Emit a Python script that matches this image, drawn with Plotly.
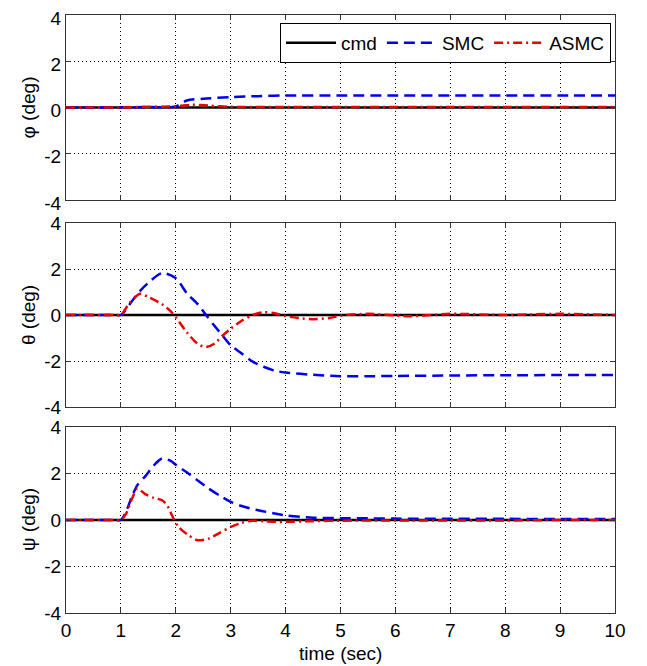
import plotly.graph_objects as go

# ---------------- data ----------------
t_cmd = [0, 10]
cmd_vals = [0, 0]

t_phi_smc = [0, 0.5, 1.0, 1.5, 2.0, 2.2, 2.5, 3.0, 3.5, 4.0, 5, 6, 7, 8, 9, 10]
phi_smc = [0, 0, 0.0, 0.02, 0.05, 0.3, 0.38, 0.45, 0.49, 0.52, 0.52, 0.52, 0.52, 0.52, 0.52, 0.52]
t_phi_asmc = [0, 0.5, 1.0, 1.5, 2.0, 2.3, 2.6, 3.0, 3.5, 4.0, 5, 6, 7, 8, 9, 10]
phi_asmc = [0, 0, 0.0, 0.03, 0.05, 0.12, 0.08, 0.03, 0.02, 0.02, 0.02, 0.02, 0.02, 0.02, 0.02, 0.02]

t_theta_smc = [0, 0.5, 0.9, 1.0, 1.2, 1.35, 1.5, 1.75, 2.0, 2.2, 2.4, 2.55, 2.7, 2.85, 3.0, 3.2, 3.4, 3.6,
               3.8, 4.0, 4.5, 5.0, 5.5, 6, 7, 8, 9, 10]
theta_smc = [0, 0, 0, 0, 0.6, 1.05, 1.4, 1.82, 1.6, 0.95, 0.47, 0.0, -0.46, -0.89, -1.32, -1.67, -2.03, -2.25,
             -2.42, -2.5, -2.6, -2.66, -2.66, -2.65, -2.63, -2.62, -2.61, -2.61]
t_theta_asmc = [0, 0.5, 0.9, 1.0, 1.15, 1.35, 1.5, 1.75, 1.9, 2.0, 2.2, 2.4, 2.55, 2.7, 2.85, 3.0, 3.2, 3.4,
                3.6, 3.8, 4.0, 4.3, 4.5, 4.8, 5.0, 5.5, 6.0, 6.3, 7.0, 8.0, 9.0, 10.0]
theta_asmc = [0, 0, 0, 0, 0.5, 0.92, 0.78, 0.47, 0.18, -0.1, -0.75, -1.25, -1.39, -1.25, -0.9, -0.6, -0.25, 0.0,
              0.12, 0.08, -0.05, -0.15, -0.18, -0.13, -0.03, 0.05, -0.02, -0.05, 0.05, 0.0, 0.05, 0.0]

t_psi_smc = [0, 0.5, 0.9, 1.0, 1.1, 1.2, 1.3, 1.45, 1.6, 1.75, 1.9, 2.0, 2.2, 2.4, 2.6, 2.8, 3.0, 3.2, 3.5,
             3.8, 4.0, 4.5, 5, 5.5, 6, 7, 8, 9, 10]
psi_smc = [0, 0, 0, 0, 0.4, 1.0, 1.5, 1.9, 2.35, 2.65, 2.55, 2.38, 2.05, 1.7, 1.35, 1.05, 0.78, 0.6, 0.42,
           0.28, 0.2, 0.1, 0.08, 0.07, 0.06, 0.05, 0.05, 0.04, 0.04]
t_psi_asmc = [0, 0.5, 0.9, 1.0, 1.1, 1.2, 1.3, 1.45, 1.6, 1.75, 1.85, 1.95, 2.05, 2.2, 2.4, 2.6, 2.8, 3.0, 3.2,
              3.4, 3.6, 3.8, 4.0, 4.5, 5, 6, 7, 8, 9, 10]
psi_asmc = [0, 0, 0, 0, 0.3, 0.9, 1.35, 1.1, 0.95, 0.85, 0.6, 0.1, -0.3, -0.6, -0.87, -0.8, -0.55, -0.3, -0.12,
            -0.03, -0.05, -0.08, -0.08, -0.05, -0.03, -0.02, -0.02, -0.02, 0.0, 0.0]

x_ticks = [0, 1, 2, 3, 4, 5, 6, 7, 8, 9, 10]
x_ticktext = ["0", "1", "2", "3", "4", "5", "6", "7", "8", "9", "10"]
y_ticks = [-4, -2, 0, 2, 4]
y_ticktext = ["-4", "-2", "0", "2", "4"]
y_titles = ["\u03c6 (deg)", "\u03b8 (deg)", "\u03c8 (deg)"]
x_title = "time (sec)"
series_names = ["cmd", "SMC", "ASMC"]

# ---------------- figure ----------------
W, H = 647, 666
OFF = 8                                  # page body margin offset
FONT = "Liberation Sans, Arial, sans-serif"
L, R, T, B = 66 - OFF, 615 - OFF, 15 - OFF, 613 - OFF   # plot-area pixel box (figure coords)
PW, PH = R - L, B - T

fig = go.Figure()

panels = [
    (t_phi_smc, phi_smc, t_phi_asmc, phi_asmc),
    (t_theta_smc, theta_smc, t_theta_asmc, theta_asmc),
    (t_psi_smc, psi_smc, t_psi_asmc, psi_asmc),
]
boxes = [(15 - OFF, 200 - OFF), (223 - OFF, 407 - OFF), (427 - OFF, 613 - OFF)]

for i, (ts, ys, ta, ya) in enumerate(panels):
    xa = "x" if i == 0 else f"x{i+1}"
    ya_ = "y" if i == 0 else f"y{i+1}"
    fig.add_trace(go.Scatter(x=t_cmd, y=cmd_vals, mode="lines", name=series_names[0],
                             line=dict(color="black", width=2.5), xaxis=xa, yaxis=ya_,
                             showlegend=(i == 0)))
    fig.add_trace(go.Scatter(x=ts, y=ys, mode="lines", name=series_names[1],
                             line=dict(color="#0000ee", width=2.5, dash="11px,6px", shape="spline", smoothing=0.8),
                             xaxis=xa, yaxis=ya_, showlegend=(i == 0)))
    fig.add_trace(go.Scatter(x=ta, y=ya, mode="lines", name=series_names[2],
                             line=dict(color="#ee0000", width=2.5, dash="9px,4px,2px,4px", shape="spline", smoothing=0.8),
                             xaxis=xa, yaxis=ya_, showlegend=(i == 0)))

axis_common = dict(showline=True, linecolor="#333333", linewidth=1, mirror="allticks",
                   ticks="inside", ticklen=5, tickcolor="#333333",
                   showgrid=True, gridcolor="black", griddash="1px,3px", gridwidth=1,
                   zeroline=False, ticklabeloverflow="allow",
                   tickfont=dict(family=FONT, size=19, color="black"))

layout = dict(width=W, height=H, margin=dict(l=L, r=W - R, t=T, b=H - B, autoexpand=False),
              paper_bgcolor="white", plot_bgcolor="white",
              font=dict(family=FONT, color="black"))
for i, (top, bot) in enumerate(boxes):
    sfx = "" if i == 0 else str(i + 1)
    layout["xaxis" + sfx] = dict(axis_common, domain=[0, 1], range=[0, 10], tickvals=x_ticks,
                                 ticktext=x_ticktext, showticklabels=(i == 2),
                                 anchor="y" + sfx)
    layout["yaxis" + sfx] = dict(axis_common, domain=[(B - bot) / PH, (B - top) / PH], range=[-4, 4],
                                 tickvals=y_ticks, ticktext=y_ticktext, anchor="x" + sfx,
                                 ticklabelshift=(3 if i == 0 else 0))
fig.update_layout(**layout)

annotations = []
for i, (top, bot) in enumerate(boxes):
    annotations.append(dict(text=y_titles[i], x=(28 - OFF - L) / PW, y=(B - (top + bot) / 2) / PH,
                            xref="paper", yref="paper",
                            textangle=-90, showarrow=False, xanchor="center", yanchor="middle",
                            font=dict(family=FONT, size=19, color="black")))
annotations.append(dict(text=x_title, x=0.5, y=(B - (653 - OFF)) / PH, xref="paper", yref="paper",
                        showarrow=False, xanchor="center", yanchor="middle",
                        font=dict(family=FONT, size=19, color="black")))
fig.update_layout(annotations=annotations)

fig.update_layout(legend=dict(orientation="h", x=(611 - OFF - L) / PW, y=(B - (23 - OFF)) / PH,
                              xanchor="right", yanchor="top",
                              bgcolor="white", bordercolor="black", borderwidth=1,
                              font=dict(family=FONT, size=19, color="black"),
                              itemwidth=50, tracegroupgap=0))

fig.write_html("out.html")
